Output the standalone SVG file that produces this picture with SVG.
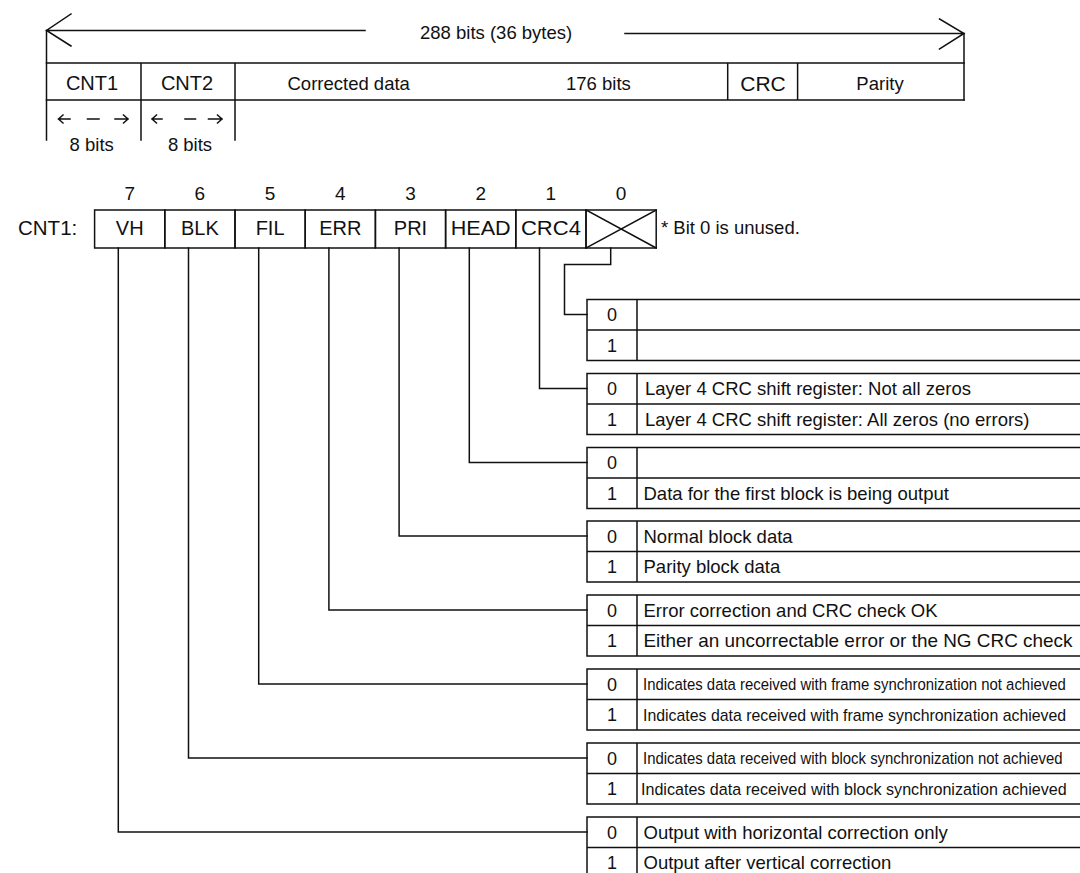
<svg xmlns="http://www.w3.org/2000/svg" width="1080" height="873" viewBox="0 0 1080 873">
<style>
.ln{stroke:#111;stroke-width:1.5;fill:none;stroke-linecap:square}
.t{font-family:"Liberation Sans",Arial,Helvetica,sans-serif;fill:#111}
.m{text-anchor:middle}
.f18{font-size:18.5px}
.f20{font-size:20px}
.d{font-size:18px;text-anchor:middle}
.c{font-size:17px}
</style>
<rect width="1080" height="873" fill="#fff"/>

<g id="frame-format">
  <g id="total-length">
    <path class="ln" d="M46.5,30.5 H365 M71,14 L46.5,30.5 L71,46 M625,33.5 H964 M939.5,19 L964,33.5 L939.5,49"/>
    <path class="ln" d="M46.5,30.5 V140 M964,33.5 V100"/>
    <text class="t f18" x="420" y="38.5">288 bits (36 bytes)</text>
  </g>
  <g id="frame-fields">
    <path class="ln" d="M46.5,63 H964 M46.5,100 H964 M141,63 V140 M235,63 V140 M727.7,63 V100 M797.6,63 V100"/>
    <text class="t f20 m" x="92" y="89.5">CNT1</text>
    <text class="t f20 m" x="187" y="89.5">CNT2</text>
    <text class="t f18" x="287.5" y="89.5">Corrected data</text>
    <text class="t f18" x="566" y="89.5">176 bits</text>
    <text class="t m" style="font-size:21px" x="763" y="91">CRC</text>
    <text class="t f18 m" x="880" y="90">Parity</text>
  </g>
  <g id="byte-widths">
    <path class="ln" d="M70,119 H58.5 M63,115 L58.5,119 L63,123 M87.5,119 H99 M115,119 H128 M123.5,115 L128,119 L123.5,123"/>
    <path class="ln" d="M162,119 H152 M156.5,115 L152,119 L156.5,123 M185,119 H195.5 M208.5,119 H222 M217.5,115 L222,119 L217.5,123"/>
    <text class="t f18 m" x="91.7" y="150.5">8 bits</text>
    <text class="t f18 m" x="190" y="150.5">8 bits</text>
  </g>
</g>

<g id="cnt1-register">
  <text class="t" style="font-size:20.5px" x="18" y="235">CNT1:</text>
  <g id="bit-numbers">
    <text class="t m" style="font-size:19px" x="129.7" y="199.5">7</text>
    <text class="t m" style="font-size:19px" x="199.9" y="199.5">6</text>
    <text class="t m" style="font-size:19px" x="270.1" y="199.5">5</text>
    <text class="t m" style="font-size:19px" x="340.3" y="199.5">4</text>
    <text class="t m" style="font-size:19px" x="410.5" y="199.5">3</text>
    <text class="t m" style="font-size:19px" x="480.7" y="199.5">2</text>
    <text class="t m" style="font-size:19px" x="550.9" y="199.5">1</text>
    <text class="t m" style="font-size:19px" x="621.1" y="199.5">0</text>
  </g>
  <g id="bit7"><rect class="ln" x="94.6" y="210" width="70.2" height="38"/><text class="t f20 m" x="129.7" y="235">VH</text></g>
  <g id="bit6"><rect class="ln" x="164.8" y="210" width="70.2" height="38"/><text class="t f20 m" x="199.9" y="235">BLK</text></g>
  <g id="bit5"><rect class="ln" x="235" y="210" width="70.2" height="38"/><text class="t f20 m" x="270.1" y="235">FIL</text></g>
  <g id="bit4"><rect class="ln" x="305.2" y="210" width="70.2" height="38"/><text class="t f20 m" x="340.3" y="235">ERR</text></g>
  <g id="bit3"><rect class="ln" x="375.4" y="210" width="70.2" height="38"/><text class="t f20 m" x="410.5" y="235">PRI</text></g>
  <g id="bit2"><rect class="ln" x="445.6" y="210" width="70.2" height="38"/><text class="t f20 m" x="480.7" y="235" textLength="60" lengthAdjust="spacingAndGlyphs">HEAD</text></g>
  <g id="bit1"><rect class="ln" x="515.8" y="210" width="70.2" height="38"/><text class="t f20 m" x="550.9" y="235" textLength="60" lengthAdjust="spacingAndGlyphs">CRC4</text></g>
  <g id="bit0"><rect class="ln" x="586" y="210" width="70.2" height="38"/><path class="ln" d="M586,210 L656.2,248 M656.2,210 L586,248"/></g>
  <text class="t f18" x="661" y="233.5">* Bit 0 is unused.</text>
</g>

<g id="connectors">
  <path class="ln" d="M610.7,248 V264.5 H564.5 V314.5 H587"/>
  <path class="ln" d="M539.5,248 V388.5 H587"/>
  <path class="ln" d="M469.3,248 V462.5 H587"/>
  <path class="ln" d="M399.1,248 V536 H587"/>
  <path class="ln" d="M328.9,248 V610 H587"/>
  <path class="ln" d="M258.7,248 V684 H587"/>
  <path class="ln" d="M188.5,248 V758 H587"/>
  <path class="ln" d="M118.3,248 V832 H587"/>
</g>

<g id="table-bit0">
  <path class="ln" d="M587,299.5 H1080 M587,330 H1080 M587,360.5 H1080 M587,299.5 V360.5 M637,299.5 V360.5"/>
  <text class="t d" x="612" y="321">0</text><text class="t d" x="612" y="351.5">1</text>
</g>
<g id="table-bit1">
  <path class="ln" d="M587,373.5 H1080 M587,404 H1080 M587,434.5 H1080 M587,373.5 V434.5 M637,373.5 V434.5"/>
  <text class="t d" x="612" y="395">0</text><text class="t d" x="612" y="425.5">1</text>
  <text class="t f18" x="645" y="395">Layer 4 CRC shift register: Not all zeros</text>
  <text class="t f18" x="645" y="425.5">Layer 4 CRC shift register: All zeros (no errors)</text>
</g>
<g id="table-bit2">
  <path class="ln" d="M587,447.5 H1080 M587,478 H1080 M587,508.5 H1080 M587,447.5 V508.5 M637,447.5 V508.5"/>
  <text class="t d" x="612" y="469">0</text><text class="t d" x="612" y="499.5">1</text>
  <text class="t f18" x="643.5" y="499.5">Data for the first block is being output</text>
</g>
<g id="table-bit3">
  <path class="ln" d="M587,521 H1080 M587,551.5 H1080 M587,582 H1080 M587,521 V582 M637,521 V582"/>
  <text class="t d" x="612" y="542.5">0</text><text class="t d" x="612" y="573">1</text>
  <text class="t f18" x="643.5" y="542.5">Normal block data</text>
  <text class="t f18" x="643.5" y="573">Parity block data</text>
</g>
<g id="table-bit4">
  <path class="ln" d="M587,595 H1080 M587,625.5 H1080 M587,656 H1080 M587,595 V656 M637,595 V656"/>
  <text class="t d" x="612" y="616.5">0</text><text class="t d" x="612" y="647">1</text>
  <text class="t f18" x="643.5" y="616.5">Error correction and CRC check OK</text>
  <text class="t f18" x="643.5" y="647" textLength="429" lengthAdjust="spacingAndGlyphs">Either an uncorrectable error or the NG CRC check</text>
</g>
<g id="table-bit5">
  <path class="ln" d="M587,669 H1080 M587,699.5 H1080 M587,730 H1080 M587,669 V730 M637,669 V730"/>
  <text class="t d" x="612" y="690.5">0</text><text class="t d" x="612" y="721">1</text>
  <text class="t c" transform="translate(643,690) scale(0.878,1)">Indicates data received with frame synchronization not achieved</text>
  <text class="t c" transform="translate(643,720.5) scale(0.933,1)">Indicates data received with frame synchronization achieved</text>
</g>
<g id="table-bit6">
  <path class="ln" d="M587,743 H1080 M587,773.5 H1080 M587,804 H1080 M587,743 V804 M637,743 V804"/>
  <text class="t d" x="612" y="764.5">0</text><text class="t d" x="612" y="795">1</text>
  <text class="t c" transform="translate(643,764) scale(0.878,1)">Indicates data received with block synchronization not achieved</text>
  <text class="t c" transform="translate(641,794.5) scale(0.947,1)">Indicates data received with block synchronization achieved</text>
</g>
<g id="table-bit7">
  <path class="ln" d="M587,817 H1080 M587,847.5 H1080 M587,817 V873 M637,817 V873"/>
  <text class="t d" x="612" y="838.5">0</text><text class="t d" x="612" y="869">1</text>
  <text class="t f18" x="643.5" y="838.5">Output with horizontal correction only</text>
  <text class="t f18" x="643.5" y="869">Output after vertical correction</text>
</g>
</svg>
